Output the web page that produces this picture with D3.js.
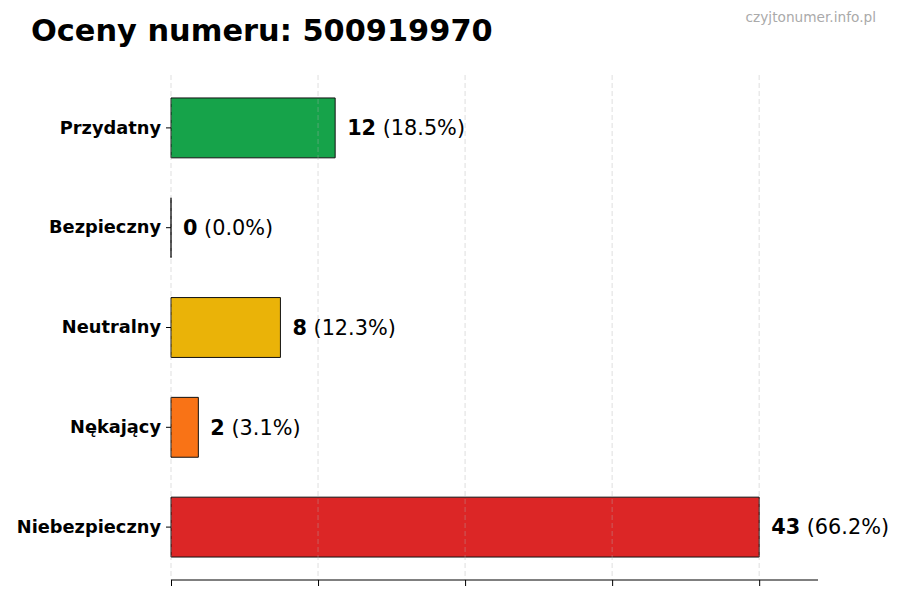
<!DOCTYPE html>
<html>
<head>
<meta charset="utf-8">
<script src="https://cdn.jsdelivr.net/npm/d3@7"></script>
<style>
  body { margin: 0; background: #fff; }
  svg { font-family: "DejaVu Sans", sans-serif; }
</style>
</head>
<body>
<svg id="chart"></svg>
<script>
// chart data
var categories = ["Przydatny", "Bezpieczny", "Neutralny", "Nękający", "Niebezpieczny"];
var counts = [12, 0, 8, 2, 43];
var percents = ["18.5%", "0.0%", "12.3%", "3.1%", "66.2%"];
var colors = ["#16a34a", "#2563eb", "#eab308", "#f97316", "#dc2626"];
var xTicks = [0, 10.75, 21.5, 32.25, 43];

var screen = {width: 900, height: 600};
var margins = {top: 75, bottom: 20, left: 171, right: 82};
var graph = {
    width: screen.width - margins.left - margins.right,
    height: screen.height - margins.top - margins.bottom
};

var svg = d3.select("#chart")
    .attr("width", screen.width)
    .attr("height", screen.height);

// title + watermark
svg.append("text")
    .attr("x", 31).attr("y", 41)
    .attr("font-size", 30.4).attr("font-weight", "bold")
    .attr("fill", "#000")
    .text("Oceny numeru: 500919970");

svg.append("text")
    .attr("x", 876).attr("y", 22)
    .attr("text-anchor", "end")
    .attr("font-size", 13.7).attr("fill", "#aaa")
    .text("czyjtonumer.info.pl");

var xScale = d3.scaleLinear()
    .domain([0, d3.max(counts) * 1.1])
    .range([0, graph.width]);

var yScale = d3.scaleBand()
    .domain(categories)
    .range([0, graph.height])
    .paddingInner(0.4)
    .paddingOuter(0.23);

var g = svg.append("g")
    .attr("transform", "translate(" + margins.left + "," + margins.top + ")");

var rows = categories.map(function(c, i) {
    return {cat: c, count: counts[i], pct: percents[i], color: colors[i]};
});

// bars as paths so a zero count still shows its edge
g.selectAll("path.bar")
    .data(rows)
    .enter()
    .append("path")
    .attr("class", "bar")
    .attr("d", function(d) {
        var w = xScale(d.count), y = yScale(d.cat), h = yScale.bandwidth();
        return "M0," + y + "h" + w + "v" + h + "h" + (-w) + "Z";
    })
    .attr("fill", function(d) { return d.color; })
    .attr("stroke", "#111")
    .attr("stroke-width", 1);

// dashed grid lines over bars
g.selectAll("line.grid")
    .data(xTicks)
    .enter()
    .append("line")
    .attr("class", "grid")
    .attr("x1", function(d) { return xScale(d); })
    .attr("x2", function(d) { return xScale(d); })
    .attr("y1", 0)
    .attr("y2", graph.height)
    .attr("stroke", "#b0b0b0")
    .attr("stroke-opacity", 0.5)
    .attr("stroke-dasharray", "5,3")
    .attr("stroke-width", 0.8);

// value labels
var labels = g.selectAll("text.val")
    .data(rows)
    .enter()
    .append("text")
    .attr("class", "val")
    .attr("x", function(d) { return xScale(d.count) + 12; })
    .attr("y", function(d) { return yScale(d.cat) + yScale.bandwidth() / 2; })
    .attr("dy", "0.35em")
    .attr("font-size", 20.8)
    .attr("fill", "#000");
labels.append("tspan")
    .attr("font-weight", "bold")
    .text(function(d) { return d.count; });
labels.append("tspan")
    .text(function(d) { return " (" + d.pct + ")"; });

// y axis (ticks only, no spine)
var yAxis = g.append("g")
    .call(d3.axisLeft(yScale).tickSize(5).tickPadding(5));
yAxis.select(".domain").remove();
yAxis.selectAll("text")
    .attr("font-size", 17.8)
    .attr("font-weight", "bold")
    .attr("fill", "#000")
    .attr("font-family", "DejaVu Sans, sans-serif");
yAxis.selectAll("line").attr("stroke", "#000");

// x axis (no labels)
var xAxis = g.append("g")
    .attr("transform", "translate(0," + graph.height + ")")
    .call(d3.axisBottom(xScale).tickValues(xTicks).tickSize(6).tickFormat(""));
xAxis.select(".domain")
    .attr("d", "M0,0H" + graph.width)
    .attr("stroke", "#000");
xAxis.selectAll("line").attr("stroke", "#000");
</script>
</body>
</html>
